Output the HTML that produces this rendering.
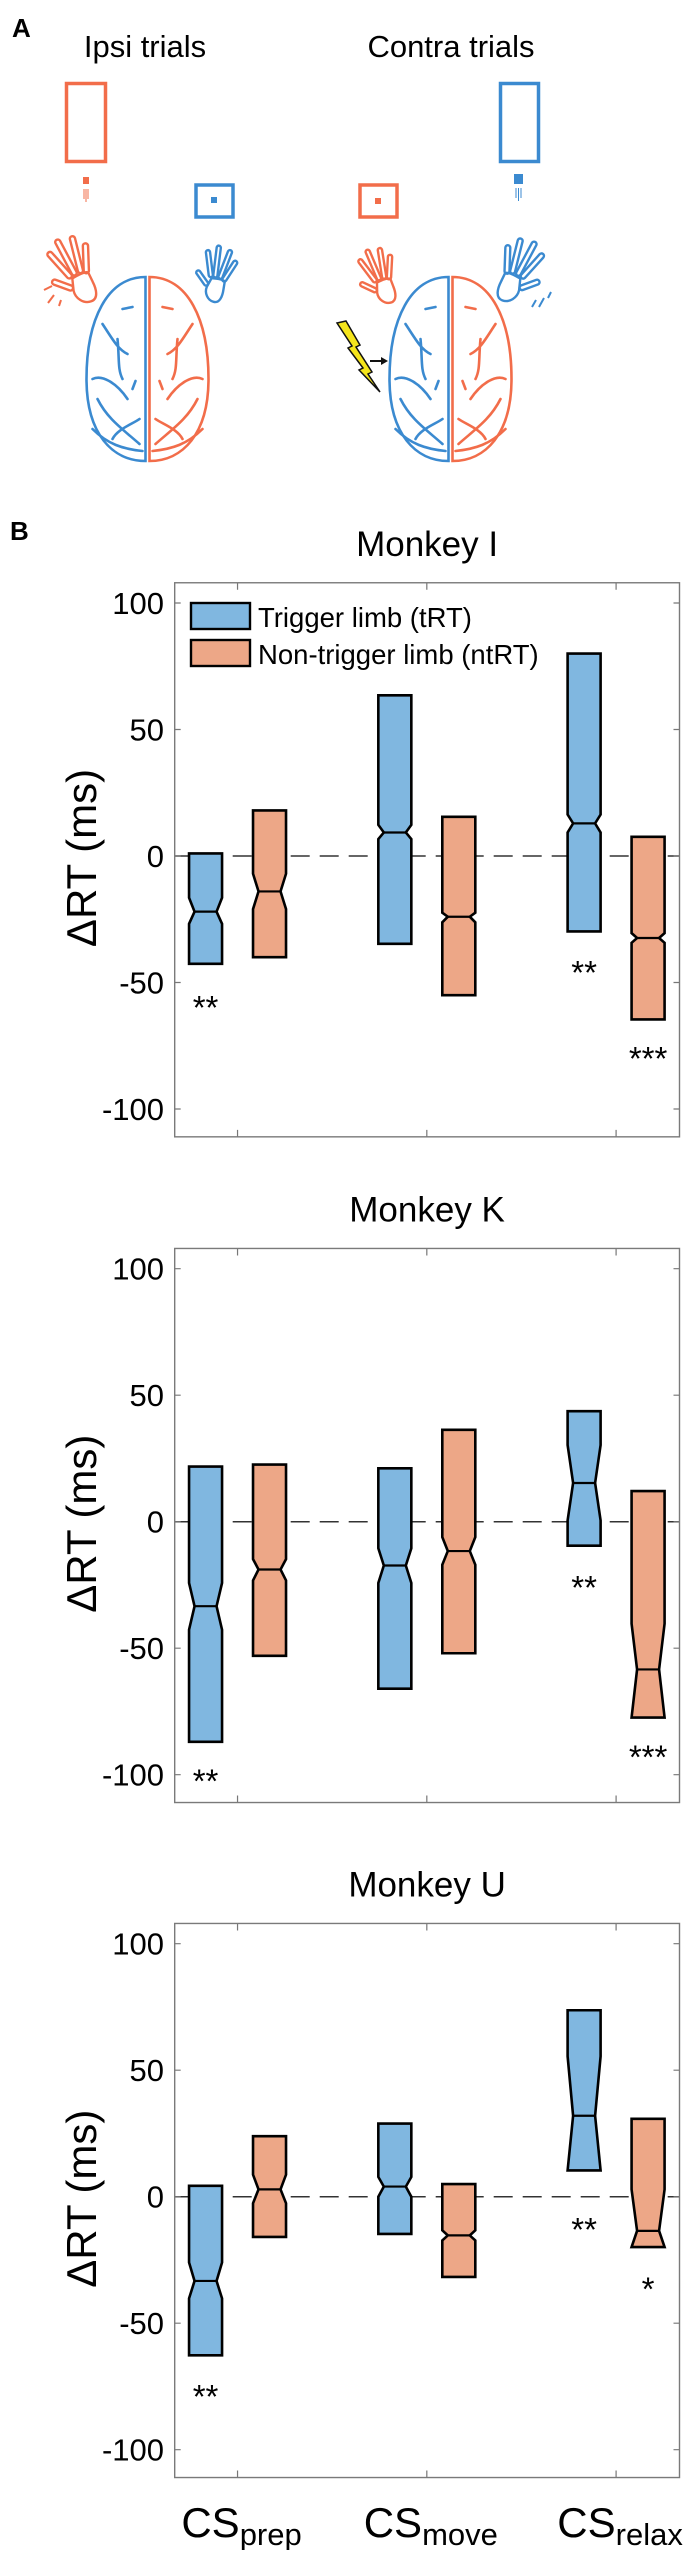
<!DOCTYPE html>
<html><head><meta charset="utf-8">
<style>
html,body{margin:0;padding:0;background:#fff;}
svg{display:block;}
text{font-family:"Liberation Sans",Arial,sans-serif;}
</style></head>
<body>
<svg id="fig" width="688" height="2550" viewBox="0 0 688 2550" xmlns="http://www.w3.org/2000/svg">
  <g id="panelA">
    <text x="12" y="37" font-size="26" font-weight="bold">A</text>
    <text x="145" y="57" font-size="31" text-anchor="middle">Ipsi trials</text>
    <text x="451" y="57" font-size="31" text-anchor="middle">Contra trials</text>

    <rect x="66.5" y="83.5" width="39" height="78" fill="none" stroke="#f26d4a" stroke-width="3.5"/>
    <rect x="83" y="177" width="6" height="7" fill="#f26d4a"/>
    <path d="M84 189v10M86 189v13M88 189v10" stroke="#f26d4a" stroke-width="1" fill="none"/>
    <rect x="196" y="185" width="37" height="32" fill="none" stroke="#3b8ad0" stroke-width="3.5"/>
    <rect x="211" y="197" width="6" height="6" fill="#3b8ad0"/>

    <rect x="360" y="185" width="37" height="32" fill="none" stroke="#f26d4a" stroke-width="3.5"/>
    <rect x="375" y="198" width="6" height="6" fill="#f26d4a"/>
    <rect x="500.5" y="83.5" width="38" height="78" fill="none" stroke="#3b8ad0" stroke-width="3.5"/>
    <rect x="514" y="174" width="9" height="10" fill="#3b8ad0"/>
    <path d="M516 188v10M518.5 188v13M521 188v10" stroke="#3b8ad0" stroke-width="1" fill="none"/>

    <g id="hands"></g>
    <g id="brains"></g>

    <polygon points="337,323 346,321 360,345 356,347 372,372 368,374 380,392 359,370 363,368 348,348 352,346" fill="#f5e51c" stroke="#111" stroke-width="1.5"/>
    <path d="M370 361h12" stroke="#111" stroke-width="2"/>
    <polygon points="381,357 388,361 381,365" fill="#111"/>

    <text x="10" y="540" font-size="26" font-weight="bold">B</text>
  </g>
  <g id="charts"></g>
</svg>
<script>
// ===== Chart data =====
const categories = ["prep", "move", "relax"];
const chartTitles = ["Monkey I", "Monkey K", "Monkey U"];
const yTicks = [-100, -50, 0, 50, 100];
const seriesNames = ["Trigger limb (tRT)", "Non-trigger limb (ntRT)"];
// each box: [upper quartile, notch upper, median, notch lower, lower quartile]
const triggerI = [[1, -16.5, -22, -26.8, -42.6], [63.5, 12.3, 9.3, 6.7, -34.7], [80, 16.4, 12.9, 9.3, -29.8]];
const nonTriggerI = [[18, -7, -14, -21, -40], [15.5, -22.4, -24, -26.2, -55], [7.6, -30.5, -32.4, -34.3, -64.6]];
const triggerK = [[21.8, -24.2, -33.4, -42.7, -87], [21.1, -10.5, -17.3, -24.2, -66], [43.7, 30.3, 15.3, 0.5, -9.5]];
const nonTriggerK = [[22.6, -14.8, -18.9, -23.2, -53], [36.3, -6.1, -11.6, -17, -52], [12.1, -40.3, -58.4, -77.4, -77.4]];
const triggerU = [[4.3, -26, -33.3, -40.2, -62.7], [28.9, 7.8, 4, 0, -14.7], [73.7, 55.5, 32, 10.4, 10.4]];
const nonTriggerU = [[23.9, 8.7, 2.9, -2.6, -15.9], [5, -13.3, -15.3, -17.3, -31.7], [30.8, 2.9, -13.5, -19.9, -19.9]];
// significance markers: [category index, series index(0 trigger,1 non-trigger), label, value]
const starsI = [[0, 0, "**", -57], [2, 0, "**", -43], [2, 1, "***", -77]];
const starsK = [[0, 0, "**", -99.5], [2, 0, "**", -23], [2, 1, "***", -90]];
const starsU = [[0, 0, "**", -76], [2, 0, "**", -10], [2, 1, "*", -33.5]];

const chartData = [
  {t: triggerI, n: nonTriggerI, s: starsI},
  {t: triggerK, n: nonTriggerK, s: starsK},
  {t: triggerU, n: nonTriggerU, s: starsU}
];

// ===== Layout =====
const NS = "http://www.w3.org/2000/svg";
const zeroYs = [856, 1521.7, 2196.7];
const PX_PER_MS = 2.53;
const Y_MAX = 108, Y_MIN = -111;
const AX_L = 174.7, AX_R = 679.5;
const X_MIN = 0.668, X_MAX = 3.335;
const BLUE_FILL = "#80b7e0", ORANGE_FILL = "#eda787";
const BOX_W = 33, NOTCH = 5.5, OFFSET = 0.169;

function mk(tag, attrs, parent) {
  const e = document.createElementNS(NS, tag);
  for (const k in attrs) e.setAttribute(k, attrs[k]);
  if (parent) parent.appendChild(e);
  return e;
}
function xScale(v) { return AX_L + (v - X_MIN) / (X_MAX - X_MIN) * (AX_R - AX_L); }

const chartsG = document.getElementById("charts");
chartData.forEach((cd, ci) => {
  const z = zeroYs[ci];
  const yScale = v => z - v * PX_PER_MS;
  const top = yScale(Y_MAX), bot = yScale(Y_MIN);
  const g = mk("g", {}, chartsG);
  
  

  const title = mk("text", {x: (AX_L + AX_R) / 2, y: top - 27, "font-size": 35, "text-anchor": "middle"}, g);
  title.textContent = chartTitles[ci];
  
  

  const zl = mk("line", {x1: AX_L, x2: AX_R, y1: yScale(0), y2: yScale(0), stroke: "#333", "stroke-width": 1.5, "stroke-dasharray": "19 10"}, g);
  
  

  yTicks.forEach(t => {
    const y = yScale(t);
    const tk = mk("path", {d: `M${AX_L} ${y}h6M${AX_R} ${y}h-6`, stroke: "#777", "stroke-width": 1.2}, g);
    
    
    const lb = mk("text", {x: 164, y: y + 11, "font-size": 31, "text-anchor": "end"}, g);
    lb.textContent = String(t);
    
    
  });
  categories.forEach((c, i) => {
    const x = xScale(i + 1);
    const tk = mk("path", {d: `M${x} ${bot}v-7M${x} ${top}v7`, stroke: "#777", "stroke-width": 1.2}, g);
    
    
  });

  const yl = mk("text", {transform: `translate(96 ${z + 2}) rotate(-90)`, "font-size": 42, "text-anchor": "middle"}, g);
  yl.textContent = "ΔRT (ms)";
  
  

  [cd.t, cd.n].forEach((series, si) => {
    series.forEach((b, i) => {
      const cx = xScale(i + 1 + (si === 0 ? -OFFSET : OFFSET));
      const l = cx - BOX_W / 2, r = cx + BOX_W / 2;
      const yq3 = yScale(b[0]), ynh = yScale(b[1]), ym = yScale(b[2]), ynl = yScale(b[3]), yq1 = yScale(b[4]);
      const d = `M${l} ${yq3}H${r}V${ynh}L${r - NOTCH} ${ym}L${r} ${ynl}V${yq1}H${l}V${ynl}L${l + NOTCH} ${ym}L${l} ${ynh}Z`;
      const p = mk("path", {d: d, fill: si === 0 ? BLUE_FILL : ORANGE_FILL, stroke: "#000", "stroke-width": 2.6, "stroke-linejoin": "miter"}, g);
      
      
      const ml = mk("line", {x1: l + NOTCH, x2: r - NOTCH, y1: ym, y2: ym, stroke: "#000", "stroke-width": 2.2}, g);
      
      
    });
  });

  cd.s.forEach(s => {
    const cx = xScale(s[0] + 1 + (s[1] === 0 ? -OFFSET : OFFSET));
    const st = mk("text", {x: cx, y: yScale(s[3]) + 19, "font-size": 33, "text-anchor": "middle"}, g);
    st.textContent = s[2];
    
    
  });

  const fr = mk("rect", {x: AX_L, y: top, width: AX_R - AX_L, height: bot - top, fill: "none", stroke: "#7a7a7a", "stroke-width": 1.4}, g);
  
  

  if (ci === 0) {
    const lg = mk("g", {}, g);
    
    
    [BLUE_FILL, ORANGE_FILL].forEach((f, k) => {
      const sw = mk("rect", {x: 191, y: 603 + k * 37, width: 59, height: 26, fill: f, stroke: "#000", "stroke-width": 2.4}, lg);
      
      
      const tx = mk("text", {x: 258, y: 627 + k * 37, "font-size": 27.5}, lg);
      tx.textContent = seriesNames[k];
      
      
    });
  }
  if (ci === 2) {
    categories.forEach((c, i) => {
      const t = mk("text", {x: xScale(i + 1) + 4, y: 2537, "font-size": 42, "text-anchor": "middle"}, g);
      
      
      t.appendChild(document.createTextNode("CS"));
      const sub = mk("tspan", {"font-size": 31, dy: 8}, t);
      sub.textContent = c;
    });
  }
});

// ===== Panel A drawings =====
const handsG = document.getElementById("hands");
function hand(cx, cy, scale, rot, color, mirror, name) {
  const g = mk("g", {transform: `translate(${cx} ${cy}) rotate(${rot}) scale(${mirror ? -scale : scale} ${scale})`, fill: "none", stroke: color, "stroke-width": 2.4 / scale, "stroke-linejoin": "round"}, handsG);
  
  
  mk("path", {d: "M-9 6 C-10 14 -4 22 4 22 C12 22 13 12 12 4 L11 -6 C9 -8 4 -8 -6 -6 Z"}, g);
  const fingers = [[-7, -7, -22, 34], [-2, -8, -8, 40], [4, -8, 6, 38], [9, -6, 18, 30], [-9, 4, -50, 22]];
  fingers.forEach(f => {
    mk("rect", {x: -2.6, y: -f[3], width: 5.2, height: f[3], rx: 2.6, transform: `translate(${f[0]} ${f[1]}) rotate(${f[2]})`}, g);
  });
}
hand(80, 282, 1.0, -20, "#f26d4a", false, "ipsi-orange-hand");
hand(215, 284, 0.8, 15, "#3b8ad0", false, "ipsi-blue-hand");
hand(383, 286, 0.82, -15, "#f26d4a", false, "contra-orange-hand");
hand(513, 282, 0.95, 20, "#3b8ad0", true, "contra-blue-hand");
mk("path", {d: "M44 290l8-4M48 303l6-8M59 306l2-6", stroke: "#f26d4a", "stroke-width": 2, fill: "none"}, handsG);
mk("path", {d: "M536 300l-4 7M544 298l-5 9M551 292l-3 6", stroke: "#3b8ad0", "stroke-width": 2, fill: "none"}, handsG);

const brainsG = document.getElementById("brains");
function brain(cx, name) {
  const g = mk("g", {fill: "none", "stroke-width": 2.6, "stroke-linecap": "round"}, brainsG);
  
  
  const cy = 369, rx = 61, ry = 92;
  mk("path", {d: `M${cx - 2} ${cy - ry} C${cx - 40} ${cy - ry} ${cx - rx} ${cy - 50} ${cx - rx} ${cy + 10} C${cx - rx} ${cy + 65} ${cx - 35} ${cy + ry} ${cx - 2} ${cy + ry} Z`, stroke: "#3b8ad0"}, g);
  mk("path", {d: `M${cx + 2} ${cy - ry} C${cx + 40} ${cy - ry} ${cx + rx} ${cy - 50} ${cx + rx} ${cy + 10} C${cx + rx} ${cy + 65} ${cx + 35} ${cy + ry} ${cx + 2} ${cy + ry} Z`, stroke: "#f26d4a"}, g);
  const gy = `M-45 -45 C-35 -30 -30 -20 -20 -15 M-25 -60 L-15 -62 M-55 10 C-45 5 -30 15 -20 30 M-50 30 C-40 50 -25 60 -8 75 M-35 70 C-30 60 -15 55 -8 50 M-30 -30 C-28 -10 -30 0 -25 10 M-15 20 L-12 12 M-55 60 C-40 75 -25 80 -5 82`;
  mk("path", {d: gy, transform: `translate(${cx} ${cy})`, stroke: "#3b8ad0"}, g);
  mk("path", {d: gy, transform: `translate(${cx} ${cy}) scale(-1 1)`, stroke: "#f26d4a"}, g);
}
brain(147.5, "ipsi-brain");
brain(450.5, "contra-brain");
</script>
</body></html>
